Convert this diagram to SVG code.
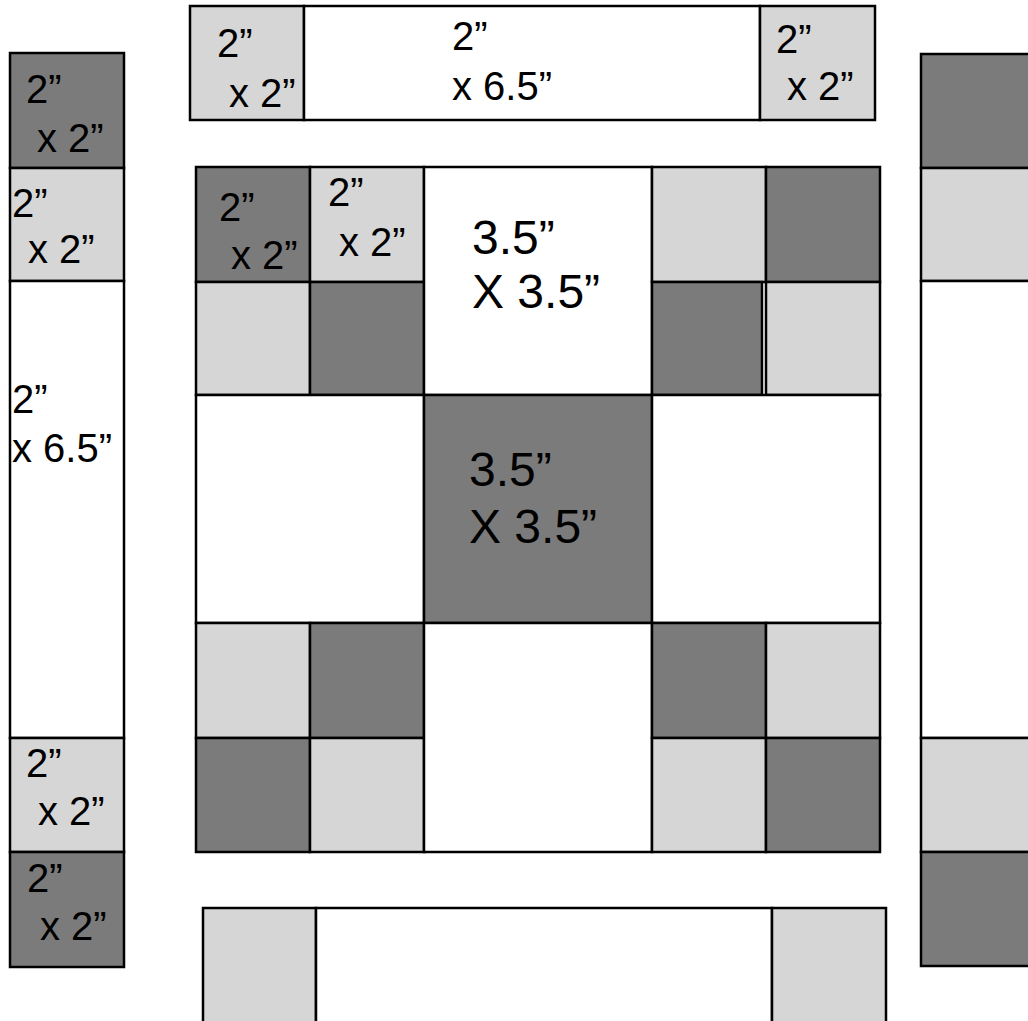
<svg xmlns="http://www.w3.org/2000/svg" width="1028" height="1021" viewBox="0 0 1028 1021">
<style>
.d{fill:#7b7b7b;stroke:#000;stroke-width:2.5}
.l{fill:#d6d6d6;stroke:#000;stroke-width:2.5}
.w{fill:#fff;stroke:#000;stroke-width:2.5}
text{font-family:"Liberation Sans",Arial,sans-serif;font-size:40px;fill:#000}
.big{font-size:48px}
</style>
<rect width="1028" height="1021" fill="#fff"/>
<g id="top-strip">
<rect class="l" x="190" y="6" width="114" height="114"/>
<rect class="w" x="304" y="6" width="456" height="114"/>
<rect class="l" x="760" y="6" width="115" height="114"/>
<text x="217" y="57">2”</text><text x="229" y="107">x 2”</text>
<text x="452" y="50">2”</text><text x="452" y="100">x 6.5”</text>
<text x="776" y="53">2”</text><text x="787" y="100">x 2”</text>
</g>
<g id="left-column">
<rect class="d" x="10" y="53" width="114" height="115"/>
<rect class="l" x="10" y="168" width="114" height="113"/>
<rect class="w" x="10" y="281" width="114" height="457"/>
<rect class="l" x="10" y="738" width="114" height="114"/>
<rect class="d" x="10" y="852" width="114" height="115"/>
<text x="26" y="103">2”</text><text x="37" y="152">x 2”</text>
<text x="12" y="217">2”</text><text x="28" y="263">x 2”</text>
<text x="12" y="413">2”</text><text x="12" y="462">x 6.5”</text>
<text x="26" y="777">2”</text><text x="38" y="825">x 2”</text>
<text x="27" y="892">2”</text><text x="40" y="940">x 2”</text>
</g>
<g id="right-column">
<rect class="d" x="921" y="54" width="114" height="114"/>
<rect class="l" x="921" y="168" width="114" height="113"/>
<rect class="w" x="921" y="281" width="114" height="457"/>
<rect class="l" x="921" y="738" width="114" height="114"/>
<rect class="d" x="921" y="852" width="114" height="114"/>
</g>
<g id="center-block">
<rect class="d" x="196" y="167" width="114" height="115"/>
<rect class="l" x="310" y="167" width="114" height="115"/>
<rect class="l" x="196" y="282" width="114" height="113"/>
<rect class="d" x="310" y="282" width="114" height="113"/>
<rect class="w" x="424" y="167" width="228" height="228"/>
<rect class="l" x="652" y="167" width="114" height="115"/>
<rect class="d" x="766" y="167" width="114" height="115"/>
<rect class="d" x="652" y="282" width="110" height="113"/>
<rect class="l" x="766" y="282" width="114" height="113"/>
<rect class="w" x="196" y="395" width="228" height="228"/>
<rect class="d" x="424" y="395" width="228" height="228"/>
<rect class="w" x="652" y="395" width="228" height="228"/>
<rect class="l" x="196" y="623" width="114" height="115"/>
<rect class="d" x="310" y="623" width="114" height="115"/>
<rect class="d" x="196" y="738" width="114" height="114"/>
<rect class="l" x="310" y="738" width="114" height="114"/>
<rect class="w" x="424" y="623" width="228" height="229"/>
<rect class="d" x="652" y="623" width="114" height="115"/>
<rect class="l" x="766" y="623" width="114" height="115"/>
<rect class="l" x="652" y="738" width="114" height="114"/>
<rect class="d" x="766" y="738" width="114" height="114"/>
<text x="219" y="221">2”</text><text x="231" y="269">x 2”</text>
<text x="328" y="206">2”</text><text x="339" y="256">x 2”</text>
<text class="big" x="472" y="254">3.5”</text><text class="big" x="472" y="308">X 3.5”</text>
<text class="big" x="469" y="486">3.5”</text><text class="big" x="469" y="543">X 3.5”</text>
</g>
<g id="bottom-strip">
<rect class="l" x="203" y="908" width="113" height="130"/>
<rect class="w" x="316" y="908" width="456" height="130"/>
<rect class="l" x="772" y="908" width="114" height="130"/>
</g>
<g id="connectors"/>
</svg>
